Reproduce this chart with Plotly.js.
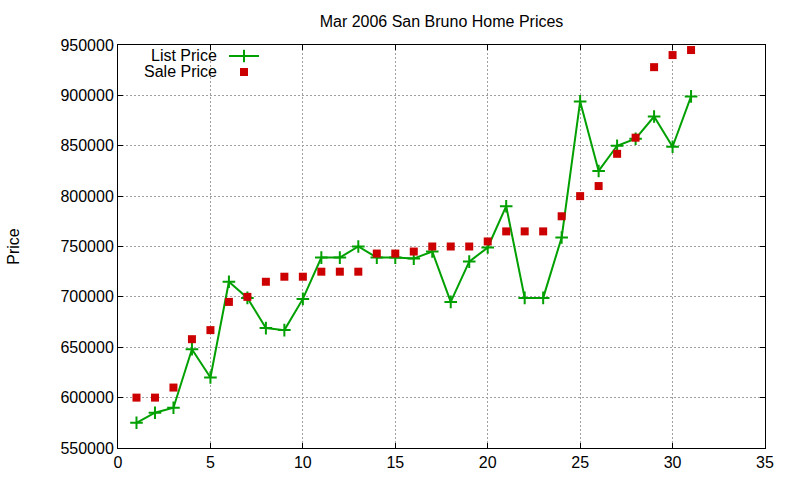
<!DOCTYPE html>
<html>
<head>
<meta charset="utf-8">
<script src="https://cdn.plot.ly/plotly-3.0.1.min.js"></script>
<style>html,body{margin:0;padding:0;background:#fff;}#chart{width:800px;height:480px;}</style>
</head>
<body>
<div id="chart"></div>
<script>
var days = [1,2,3,4,5,6,7,8,9,10,11,12,13,14,15,16,17,18,19,20,21,22,23,24,25,26,27,28,29,30,31];
var listPrice = [575000,585000,590000,648000,620000,715000,699000,669000,667000,698000,
                 739000,739000,750000,739000,739000,738000,745000,695000,735000,749000,
                 790000,699000,699000,759000,894000,825000,850000,857000,879000,849000,899000];
var salePrice = [600000,600000,610000,658000,667000,695000,700000,715000,720000,720000,
                 725000,725000,725000,743000,743000,745000,750000,750000,750000,755000,
                 765000,765000,765000,780000,800000,810000,842000,858000,928000,940000,945000];
var seriesNames = ["List Price", "Sale Price"];
var chartTitle = "Mar 2006 San Bruno Home Prices";
var yTitle = "Price";

var green = "#00a000", red = "#cc0000";
var fontFam = "Liberation Sans, Arial, sans-serif";

var traces = [
  {x: days, y: listPrice, type: "scatter", mode: "lines+markers", name: " ",
   legend: "legend",
   line: {color: green, width: 2},
   marker: {symbol: "cross-thin-open", size: 9, color: green, line: {color: green, width: 2}}},
  {x: days, y: salePrice, type: "scatter", mode: "markers", name: " ",
   legend: "legend2",
   marker: {symbol: "square", size: 8, color: red, line: {width: 0}}}
];

var L = 118, R = 765, T = 45, B = 448, W = 800, H = 480;
var pw = R - L, ph = B - T;
function px2x(p){ return (p - L) / pw; }
function py2y(p){ return (B - p) / ph; }

var axisCommon = {
  showline: true, linecolor: "#000", linewidth: 1, mirror: "ticks",
  ticks: "inside", ticklen: 5, tickwidth: 1, tickcolor: "#000",
  showgrid: true, gridcolor: "#a0a0a0", gridwidth: 1, griddash: "2px,2px",
  zeroline: false, tickfont: {size: 16, color: "#000", family: fontFam}
};

var layout = {
  width: W, height: H,
  margin: {l: L, r: W - R, t: T, b: H - B, pad: 0},
  paper_bgcolor: "#fff", plot_bgcolor: "#fff",
  font: {family: fontFam, color: "#000", size: 16},
  title: {text: chartTitle, font: {size: 16, color: "#000", family: fontFam},
          x: 0.5, xref: "paper", xanchor: "center",
          y: 1 - 21 / H, yref: "container", yanchor: "middle"},
  xaxis: Object.assign({}, axisCommon, {range: [0, 35], tick0: 0, dtick: 5}),
  yaxis: Object.assign({}, axisCommon, {range: [550000, 950000], tick0: 550000, dtick: 50000,
          tickformat: "d", automargin: false,
          title: {text: yTitle, font: {size: 16, color: "#000", family: fontFam}, standoff: 36}}),
  showlegend: true,
  legend: {x: px2x(224), y: py2y(56), xanchor: "left", yanchor: "middle",
           bgcolor: "rgba(0,0,0,0)", borderwidth: 0, font: {size: 10}, itemwidth: 30},
  legend2: {x: px2x(224), y: py2y(72), xanchor: "left", yanchor: "middle",
           bgcolor: "rgba(0,0,0,0)", borderwidth: 0, font: {size: 10}, itemwidth: 30},
  annotations: [
    {text: seriesNames[0], xref: "paper", yref: "paper", x: px2x(218), y: py2y(55),
     xanchor: "right", yanchor: "middle", showarrow: false, borderpad: 0,
     font: {size: 16, color: "#000"}},
    {text: seriesNames[1], xref: "paper", yref: "paper", x: px2x(218), y: py2y(71),
     xanchor: "right", yanchor: "middle", showarrow: false, borderpad: 0,
     font: {size: 16, color: "#000"}}
  ]
};

Plotly.newPlot("chart", traces, layout, {displayModeBar: false, staticPlot: true});
</script>
</body>
</html>
